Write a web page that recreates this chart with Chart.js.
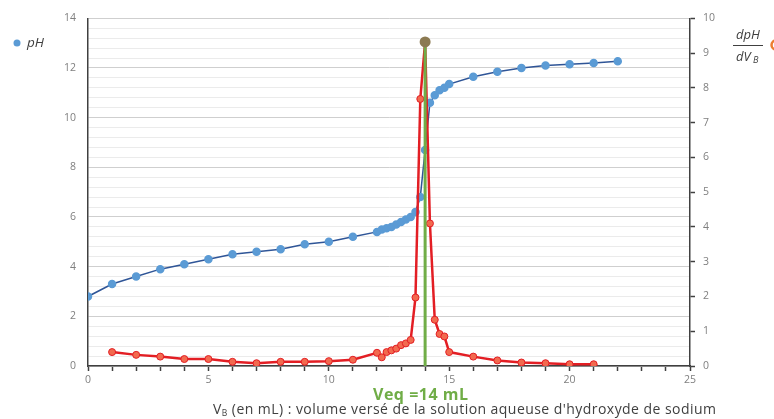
<!DOCTYPE html>
<html>
<head>
<meta charset="utf-8">
<script src="https://cdn.jsdelivr.net/npm/chart.js@4"></script>
<style>
  html, body { margin: 0; padding: 0; background: #fff; }
  #c { display: block; }
</style>
</head>
<body>
<canvas id="c" width="774" height="419"></canvas>
<script>
// pH curve (volume in mL)
var vPH = [0, 1, 2, 3, 4, 5, 6, 7, 8, 9, 10, 11, 12, 12.2, 12.4, 12.6, 12.8, 13, 13.2, 13.4, 13.6, 13.8, 14, 14.2, 14.4, 14.6, 14.8, 15, 16, 17, 18, 19, 20, 21, 22];
var pH  = [2.8, 3.3, 3.6, 3.9, 4.1, 4.3, 4.5, 4.6, 4.7, 4.9, 5.0, 5.2, 5.4, 5.5, 5.55, 5.6, 5.7, 5.8, 5.9, 6.0, 6.2, 6.8, 8.7, 10.6, 10.9, 11.1, 11.2, 11.35, 11.65, 11.85, 12.0, 12.1, 12.15, 12.2, 12.27];

// derivative dpH/dVB
var vD  = [1, 2, 3, 4, 5, 6, 7, 8, 9, 10, 11, 12, 12.2, 12.4, 12.6, 12.8, 13, 13.2, 13.4, 13.6, 13.8, 14, 14.2, 14.4, 14.6, 14.8, 15, 16, 17, 18, 19, 20, 21];
var dpH = [0.4, 0.32, 0.27, 0.2, 0.2, 0.12, 0.08, 0.12, 0.12, 0.14, 0.18, 0.38, 0.25, 0.4, 0.45, 0.5, 0.6, 0.65, 0.75, 1.97, 7.68, 9.32, 4.1, 1.33, 0.92, 0.85, 0.4, 0.27, 0.16, 0.1, 0.08, 0.05, 0.05];

// equivalence volume
var vEq = 14;
var xTicks = [0, 5, 10, 15, 20, 25];

function pts(xs, ys) {
    return xs.map(function (x, i) { return { x: x, y: ys[i] }; });
}

var FONT = "'Open Sans', 'DejaVu Sans', sans-serif";

var extras = {
    id: 'extras',
    afterDraw: function (chart) {
        var ctx = chart.ctx;
        ctx.save();
        ctx.textBaseline = 'middle';

        // x axis title with subscript
        ctx.fillStyle = '#404040';
        ctx.letterSpacing = '0.45px';
        ctx.font = '14px ' + FONT;
        var x = 213, y = 410;
        ctx.fillText('V', x, y);
        x += ctx.measureText('V').width;
        ctx.font = '8.5px ' + FONT;
        ctx.fillText('B', x, y + 4);
        x += ctx.measureText('B').width;
        ctx.font = '14px ' + FONT;
        ctx.fillText(" (en mL) : volume versé de la solution aqueuse d'hydroxyde de sodium", x, y);

        // equivalence label
        ctx.letterSpacing = '0.5px';
        ctx.fillStyle = '#70AD47';
        ctx.font = 'bold 16px ' + FONT;
        ctx.fillText('Veq =14 mL', 373, 395);
        ctx.letterSpacing = '0px';

        // left legend
        ctx.fillStyle = '#5B9BD5';
        ctx.beginPath();
        ctx.arc(17, 43, 3.5, 0, Math.PI * 2);
        ctx.fill();
        ctx.fillStyle = '#404040';
        ctx.font = 'italic 13.5px ' + FONT;
        ctx.fillText('pH', 27, 43);

        // right legend
        ctx.font = 'italic 13px ' + FONT;
        ctx.textAlign = 'center';
        ctx.fillText('dpH', 748, 35);
        ctx.strokeStyle = '#404040';
        ctx.lineWidth = 1;
        ctx.beginPath();
        ctx.moveTo(733, 45.5);
        ctx.lineTo(763, 45.5);
        ctx.stroke();
        ctx.textAlign = 'left';
        ctx.fillText('dV', 736, 57);
        ctx.font = 'italic 9px ' + FONT;
        ctx.fillText('B', 736 + 17, 60);
        ctx.strokeStyle = '#ED7D31';
        ctx.lineWidth = 2.5;
        ctx.beginPath();
        ctx.arc(776, 45, 4.5, 0, Math.PI * 2);
        ctx.stroke();

        ctx.restore();
    }
};

var ctx = document.getElementById('c').getContext('2d');
var myChart = new Chart(ctx, {
    type: 'scatter',
    data: {
        datasets: [{
            label: 'Veq',
            data: [{ x: vEq, y: 0 }, { x: vEq, y: dpH[vD.indexOf(vEq)] }],
            yAxisID: 'y2',
            showLine: true,
            borderColor: '#70AD47',
            borderWidth: 3,
            pointRadius: [0, 4],
            pointBackgroundColor: '#8c7a52',
            pointBorderColor: '#8c7a52',
            order: 0
        }, {
            label: 'dpH/dVB',
            data: pts(vD, dpH),
            yAxisID: 'y2',
            showLine: true,
            borderColor: '#E31E24',
            borderWidth: 2.5,
            pointRadius: 3.5,
            pointBackgroundColor: '#F26A4F',
            pointBorderColor: '#E31E24',
            pointBorderWidth: 1,
            order: 1
        }, {
            label: 'pH',
            data: pts(vPH, pH),
            yAxisID: 'y',
            showLine: true,
            borderColor: '#2F5597',
            borderWidth: 1.5,
            pointRadius: 3.5,
            pointBackgroundColor: '#5B9BD5',
            pointBorderColor: '#5B9BD5',
            order: 2
        }]
    },
    options: {
        responsive: false,
        animation: false,
        layout: { padding: { top: 18, left: 0, right: 0, bottom: 0 } },
        plugins: { legend: { display: false }, tooltip: { enabled: false } },
        scales: {
            x: {
                type: 'linear',
                min: 0,
                max: 25,
                afterFit: function (s) { s.height = 53; },
                ticks: {
                    stepSize: 1,
                    autoSkip: false,
                    maxRotation: 0,
                    padding: 3,
                    color: '#7f7f7f',
                    font: { family: FONT, size: 10.5 },
                    callback: function (v) { return xTicks.indexOf(v) >= 0 ? String(v) : ''; }
                },
                grid: {
                    drawOnChartArea: false,
                    drawTicks: true,
                    tickLength: 5,
                    color: '#404040',
                    tickColor: '#404040',
                    tickWidth: 1.5
                },
                border: { color: '#404040', width: 1.5 }
            },
            y: {
                position: 'left',
                min: 0,
                max: 14,
                afterFit: function (s) { s.width = 88; },
                ticks: {
                    stepSize: 0.4,
                    autoSkip: false,
                    padding: 12,
                    color: '#7f7f7f',
                    font: { family: FONT, size: 10.5 },
                    callback: function (v) {
                        var r = Math.round(v);
                        return (Math.abs(v - r) < 1e-6 && r % 2 === 0) ? String(r) : '';
                    }
                },
                grid: {
                    drawTicks: false,
                    color: function (c) {
                        var v = c.tick ? c.tick.value : 0;
                        var r = Math.round(v);
                        return (Math.abs(v - r) < 1e-6 && r % 2 === 0) ? '#cfcfcf' : '#ebebeb';
                    }
                },
                border: { color: '#404040', width: 1.5 }
            },
            y2: {
                position: 'right',
                min: 0,
                max: 10,
                afterFit: function (s) { s.width = 84; },
                ticks: {
                    stepSize: 1,
                    padding: 8,
                    color: '#7f7f7f',
                    font: { family: FONT, size: 10.5 }
                },
                grid: {
                    drawOnChartArea: false,
                    drawTicks: true,
                    tickLength: 5,
                    color: '#404040',
                    tickColor: '#404040',
                    tickWidth: 1.5
                },
                border: { color: '#404040', width: 1.5 }
            }
        }
    },
    plugins: [extras]
});
</script>
</body>
</html>
